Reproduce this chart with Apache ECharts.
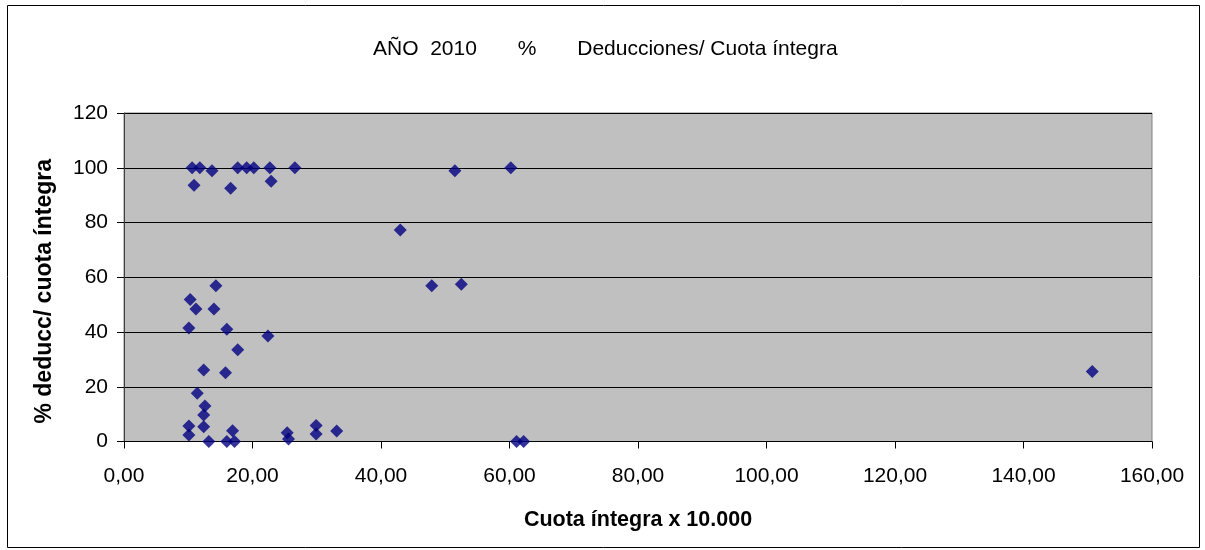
<!DOCTYPE html>
<html>
<head>
<meta charset="utf-8">
<script src="https://cdn.jsdelivr.net/npm/echarts@6/dist/echarts.min.js"></script>
<style>
html,body{margin:0;padding:0;background:#fff;}
#c{width:1205px;height:550px;}
</style>
</head>
<body>
<div id="c"></div>
<script>
const titleText = 'AÑO  2010       %       Deducciones/ Cuota íntegra';
const xName = 'Cuota íntegra x 10.000';
const yName = '% deducc/ cuota íntegra';
const xValues = [10.6, 11.8, 13.7, 17.7, 19.1, 20.2, 22.7, 26.6, 10.9, 16.6, 22.9, 51.5, 60.2, 43.0, 47.9, 52.5, 14.3, 10.3, 11.2, 14.0, 10.1, 16.0, 22.4, 17.7, 12.4, 15.8, 11.4, 12.6, 12.4, 10.1, 12.4, 10.1, 13.2, 16.0, 17.2, 16.9, 25.4, 25.6, 29.9, 29.9, 33.1, 61.1, 62.2, 150.7];
const yValues = [100, 100, 98.9, 100, 100, 100, 100, 100, 93.6, 92.5, 95.1, 98.9, 100, 77.3, 56.9, 57.4, 56.9, 51.9, 48.4, 48.4, 41.5, 41.0, 38.5, 33.5, 26.1, 25.1, 17.6, 13.0, 9.7, 5.7, 5.4, 2.4, 0, 0, 0, 3.9, 3.2, 0.9, 5.8, 2.7, 3.8, 0, 0, 25.6];

const points = xValues.map((x, i) => [x, yValues[i]]);
const font = '"Liberation Sans", Arial, sans-serif';

const chart = echarts.init(document.getElementById('c'), null, {renderer: 'canvas'});
chart.setOption({
  animation: false,
  backgroundColor: '#ffffff',
  title: {
    text: titleText,
    left: 368,
    top: 34,
    textStyle: {fontFamily: font, fontSize: 21, fontWeight: 'normal', color: '#000'}
  },
  graphic: [{
    type: 'rect',
    shape: {x: 7.5, y: 5.5, width: 1192, height: 542},
    style: {fill: 'none', stroke: '#000', lineWidth: 1},
    silent: true,
    z: 100
  }],
  grid: {
    left: 124, right: 53, top: 113, bottom: 108.5,
    show: true,
    backgroundColor: '#C0C0C0',
    borderColor: '#808080',
    borderWidth: 1
  },
  xAxis: {
    type: 'value',
    min: 0, max: 160, interval: 20,
    name: xName,
    nameLocation: 'middle',
    nameGap: 68,
    nameTextStyle: {fontFamily: font, fontSize: 21.5, fontWeight: 'bold', color: '#000'},
    axisLine: {show: true, onZero: false, lineStyle: {color: '#000', width: 1}},
    axisTick: {show: true, inside: false, length: 7, lineStyle: {color: '#000'}},
    axisLabel: {
      margin: 24,
      fontFamily: font, fontSize: 21, color: '#000',
      formatter: v => v.toFixed(2).replace('.', ',')
    },
    splitLine: {show: false}
  },
  yAxis: {
    type: 'value',
    min: 0, max: 120, interval: 20,
    name: yName,
    nameLocation: 'middle',
    nameGap: 68,
    nameTextStyle: {fontFamily: font, fontSize: 23, fontWeight: 'bold', color: '#000', padding: [0, 28, 0, 0]},
    axisLine: {show: true, lineStyle: {color: '#404040', width: 1}},
    axisTick: {show: true, inside: false, length: 7, lineStyle: {color: '#000'}},
    axisLabel: {margin: 16, fontFamily: font, fontSize: 21, color: '#000'},
    splitLine: {show: true, lineStyle: {color: '#000', width: 1}}
  },
  series: [{
    type: 'scatter',
    data: points,
    symbol: 'diamond',
    symbolSize: 13,
    itemStyle: {color: '#000080'}
  }]
});
</script>
</body>
</html>
